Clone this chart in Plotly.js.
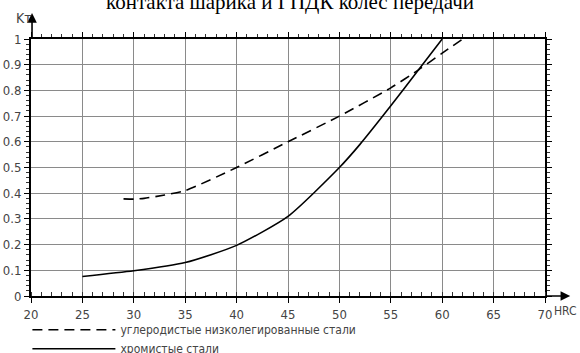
<!DOCTYPE html>
<html>
<head>
<meta charset="utf-8">
<script src="https://cdn.plot.ly/plotly-3.0.1.min.js"></script>
<style>html,body{margin:0;padding:0;background:#fff;}#chart{width:580px;height:353px;}</style>
</head>
<body>
<div id="chart"></div>
<script>
const titleText = "контакта шарика и ГПДК колес передачи";
const seriesNames = ["углеродистые низколегированные стали", "хромистые стали"];
const hrcCarbon = [29, 30, 31, 33, 35, 40, 45, 50, 55, 57.7, 60, 62];
const ktCarbon  = [0.378, 0.377, 0.38, 0.393, 0.41, 0.50, 0.60, 0.70, 0.81, 0.88, 0.945, 1.0];
const hrcChrome = [25, 30, 35, 40, 45, 50, 52, 55, 57.7, 60];
const ktChrome  = [0.076, 0.098, 0.13, 0.197, 0.31, 0.50, 0.59, 0.74, 0.88, 1.0];
const xTickVals = [20, 25, 30, 35, 40, 45, 50, 55, 60, 65, 70];
const yTickVals = [0, 0.1, 0.2, 0.3, 0.4, 0.5, 0.6, 0.7, 0.8, 0.9, 1];
const yTickText = ["0", "0.1", "0.2", "0.3", "0.4", "0.5", "0.6", "0.7", "0.8", "0.9", "1"];

const narrow = "'Liberation Sans Narrow', 'DejaVu Sans Condensed', sans-serif";
const tickFont = {family: narrow, size: 13, color: "#444"};

const traces = [
  {x: hrcCarbon, y: ktCarbon, name: seriesNames[0], mode: "lines",
   line: {color: "#000", width: 1.6, dash: "10px,6px", shape: "spline", smoothing: 0.6}},
  {x: hrcChrome, y: ktChrome, name: seriesNames[1], mode: "lines",
   line: {color: "#000", width: 1.6, shape: "spline", smoothing: 0.6}},
  {x: [null], y: [null], xaxis: "x2", yaxis: "y2", mode: "lines", showlegend: false, hoverinfo: "skip"}
];

const layout = {
  width: 580, height: 353,
  margin: {l: 31, r: 35, t: 39, b: 57, pad: 0},
  paper_bgcolor: "#fff", plot_bgcolor: "#fff",
  showlegend: true,
  title: {text: titleText, font: {family: "'Liberation Serif', serif", size: 21, color: "#000"},
          x: 0.5, xanchor: "center", xref: "container", y: 0.975, yref: "container", yanchor: "bottom"},
  legend: {x: -0.007, y: 0.107, xref: "paper", yref: "container", xanchor: "left", yanchor: "top",
           orientation: "v", bgcolor: "rgba(0,0,0,0)", borderwidth: 0, itemwidth: 83,
           font: {family: narrow, size: 12, color: "#444"}, tracegroupgap: 0},
  xaxis: {range: [20, 70], autorange: false, tickvals: xTickVals, ticks: "outside", ticklen: 5,
          tickcolor: "#000", tickwidth: 1, showline: true, linecolor: "#000", linewidth: 2,
          showgrid: true, gridcolor: "#8a8a8a", gridwidth: 1, zeroline: false,
          tickfont: tickFont, fixedrange: true,
          minor: {dtick: 1, ticks: "inside", ticklen: 4, tickcolor: "#333", showgrid: false}},
  xaxis2: {range: [20, 70], autorange: false, overlaying: "x", side: "top", tickvals: xTickVals,
           showticklabels: false, ticks: "outside", ticklen: 5, tickcolor: "#000",
           showline: true, linecolor: "#000", linewidth: 2, showgrid: false, zeroline: false,
           minor: {dtick: 1, ticks: "outside", ticklen: 3, tickcolor: "#333", showgrid: false}},
  yaxis: {range: [0, 1], autorange: false, tickvals: yTickVals, ticktext: yTickText,
          ticks: "outside", ticklen: 5, tickcolor: "#000", showline: true, linecolor: "#000",
          linewidth: 2, showgrid: true, gridcolor: "#8a8a8a", gridwidth: 1, zeroline: false,
          tickfont: tickFont, fixedrange: true,
          minor: {dtick: 0.02, ticks: "outside", ticklen: 3, tickcolor: "#333", showgrid: false}},
  yaxis2: {range: [0, 1], autorange: false, overlaying: "y", side: "right", tickvals: yTickVals,
           showticklabels: false, ticks: "outside", ticklen: 5, tickcolor: "#000",
           showline: true, linecolor: "#000", linewidth: 2, showgrid: false, zeroline: false,
           minor: {dtick: 0.02, ticks: "outside", ticklen: 3, tickcolor: "#333", showgrid: false}},
  annotations: [
    {xref: "paper", yref: "paper", x: 0.002, y: 1.101, ax: 0, ay: 27,
     text: "", showarrow: true, arrowhead: 2, arrowsize: 1.2, arrowwidth: 1.6, arrowcolor: "#000"},
    {xref: "paper", yref: "paper", x: 1.049, y: 0, ax: -26, ay: 0,
     text: "", showarrow: true, arrowhead: 2, arrowsize: 1.2, arrowwidth: 1.6, arrowcolor: "#000"},
    {xref: "paper", yref: "paper", x: -0.033, y: 1.12, text: "Kт", showarrow: false,
     font: {family: narrow, size: 14, color: "#444"}},
    {xref: "paper", yref: "paper", x: 1.066, y: -0.094, xanchor: "right", text: "HRC", showarrow: false,
     font: {family: narrow, size: 12, color: "#444"}}
  ]
};

Plotly.newPlot("chart", traces, layout, {staticPlot: true, displayModeBar: false});
</script>
</body>
</html>
